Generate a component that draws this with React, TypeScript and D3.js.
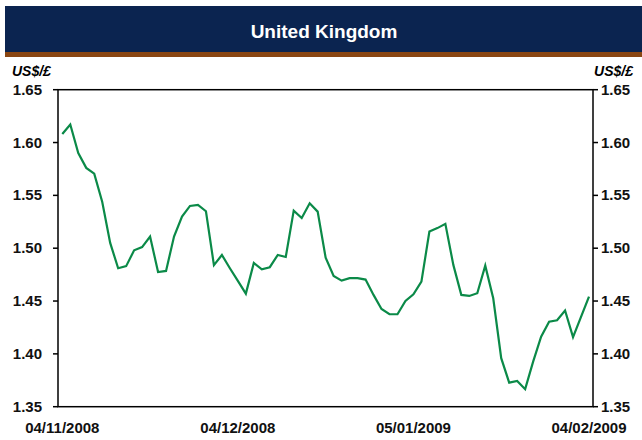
import React from "react";
import * as d3 from "d3";

const values: number[] = [
  1.608, 1.617, 1.590, 1.576, 1.5705, 1.544, 1.505, 1.481, 1.483, 1.498,
  1.501, 1.511, 1.4775, 1.4785, 1.511, 1.530, 1.540, 1.541, 1.535, 1.484,
  1.4936, 1.481, 1.469, 1.457, 1.486, 1.480, 1.482, 1.4936, 1.4917, 1.5355,
  1.5286, 1.5425, 1.5346, 1.491, 1.4737, 1.4693, 1.4716, 1.4716, 1.4703, 1.4558,
  1.4425, 1.4375, 1.4375, 1.450, 1.4564, 1.4684, 1.5157, 1.519, 1.523, 1.4842,
  1.4558, 1.4548, 1.4574, 1.4835, 1.4526, 1.3959, 1.3728, 1.3744, 1.3666, 1.3927,
  1.4163, 1.4305, 1.4318, 1.441, 1.4158, 1.435, 1.4542,
];

const xTickLabels: string[] = ["04/11/2008", "04/12/2008", "05/01/2009", "04/02/2009"];
const xTickIndex: number[] = [0, 22, 44, 66];
const yTicks: number[] = [1.35, 1.4, 1.45, 1.5, 1.55, 1.6, 1.65];
const title = "United Kingdom";
const unit = "US$/£";

const W = 642;
const H = 440;
const left = 58;
const right = 593;
const top = 89.7;
const bottom = 406.7;

export default function App() {
  const x = d3.scaleLinear().domain([0, values.length - 1]).range([62.3, 589]);
  const y = d3.scaleLinear().domain([1.35, 1.65]).range([bottom, top]);
  const line = d3
    .line<number>()
    .x((_, i) => x(i))
    .y((d) => y(d));
  const font = "'Liberation Sans', Arial, sans-serif";

  return (
    <svg
      width={W}
      height={H}
      style={{ position: "absolute", left: 0, top: 0, background: "#fff" }}
      fontFamily={font}
    >
      <rect x={5} y={6} width={W - 5} height={46} fill="#0b2450" />
      <rect x={5} y={52} width={W - 5} height={5} fill="#8a4612" />
      <text x={324} y={38} textAnchor="middle" fill="#fff" fontWeight="bold" fontSize={19}>
        {title}
      </text>
      <text x={12} y={76} fontWeight="bold" fontStyle="italic" fontSize={14} fill="#000">
        {unit}
      </text>
      <text x={633} y={76} textAnchor="end" fontWeight="bold" fontStyle="italic" fontSize={14} fill="#000">
        {unit}
      </text>

      {yTicks.map((t) => (
        <g key={t}>
          <line x1={53} x2={left} y1={y(t)} y2={y(t)} stroke="#000" strokeWidth={1.5} />
          <line x1={right} x2={598} y1={y(t)} y2={y(t)} stroke="#000" strokeWidth={1.5} />
          <text x={42} y={y(t) + 5} textAnchor="end" fontWeight="bold" fontSize={15} fill="#111">
            {t.toFixed(2)}
          </text>
          <text x={601} y={y(t) + 5} textAnchor="start" fontWeight="bold" fontSize={15} fill="#111">
            {t.toFixed(2)}
          </text>
        </g>
      ))}

      <rect
        x={left}
        y={top}
        width={right - left}
        height={bottom - top}
        fill="none"
        stroke="#000"
        strokeWidth={1.5}
      />

      {xTickIndex.map((idx, k) => (
        <text
          key={k}
          x={x(idx)}
          y={433}
          textAnchor="middle"
          fontWeight="bold"
          fontSize={15}
          fill="#111"
        >
          {xTickLabels[k]}
        </text>
      ))}

      <path d={line(values) || ""} fill="none" stroke="#0b8a48" strokeWidth={2.2} strokeLinejoin="miter" />
    </svg>
  );
}
